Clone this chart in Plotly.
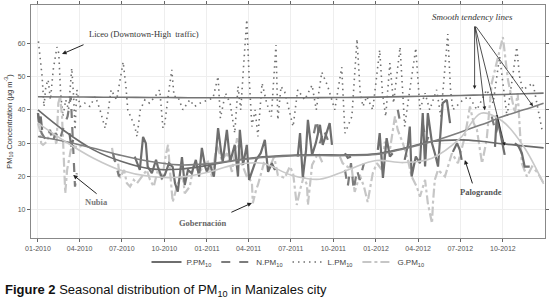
import plotly.graph_objects as go

# ---------------- data ----------------
P_DATES = ["2010-01-01","2010-01-04","2010-01-07","2010-01-10",None,
           "2010-03-10","2010-03-14","2010-03-18",None,
           "2010-07-29","2010-08-09","2010-08-16","2010-08-22","2010-08-26","2010-09-04","2010-09-13",
           "2010-09-17","2010-09-26","2010-10-02","2010-10-11","2010-10-19","2010-10-24","2010-10-30",
           "2010-11-08","2010-11-14","2010-11-21","2010-11-29","2010-12-08","2010-12-15","2010-12-21",
           "2010-12-28","2011-01-01","2011-01-07","2011-01-16","2011-01-25","2011-01-31","2011-02-04",
           "2011-02-13","2011-02-20","2011-03-02","2011-03-09","2011-03-13","2011-03-20","2011-03-28",
           "2011-04-02","2011-04-08","2011-04-17","2011-04-27","2011-05-06","2011-05-13","2011-05-21",
           "2011-05-28",None,
           "2011-07-16","2011-07-21","2011-07-27","2011-08-03","2011-08-07","2011-08-16","2011-08-24",
           "2011-09-02","2011-09-08","2011-09-17","2011-09-23","2011-09-28",None,
           "2011-10-26","2011-11-01","2011-11-08",None,
           "2012-01-05","2012-01-09","2012-01-16","2012-01-24","2012-01-31","2012-02-06",None,
           "2012-03-03","2012-03-10","2012-03-14","2012-03-18","2012-03-27","2012-04-05","2012-04-11",
           "2012-04-16","2012-04-22","2012-05-01","2012-05-09","2012-05-14","2012-05-24","2012-06-02",
           "2012-06-09",None,
           "2012-06-15","2012-06-24","2012-06-30","2012-07-04",None,
           "2012-09-14","2012-09-18","2012-09-27","2012-10-05",None,
           "2012-10-27","2012-11-04","2012-11-11","2012-11-17","2012-11-28"]
P_VALUES = [39,36,38,34,None,
            33,29,31,None,
            26,22,31.9,30,23,21,25,
            22.9,19.6,20.5,24,22.9,18,15.5,
            25.8,17.5,22,21,25,20,28.6,
            23,21.4,24,20,34.5,28,24.4,
            34,24.4,29.5,20,34,23.5,29.5,
            19,21.4,25,27,31,21.4,24,
            22,None,
            26,33,19.6,28,37,26.5,30,
            35.5,29.5,33,36,29.5,None,
            27,25.6,26,None,
            28,33,19.6,31.5,26,27,None,
            25,29.5,35,20,26,24,39,
            23,39,30,26,23,42,43,
            36,None,
            27.4,30,28,25,None,
            28.9,38.4,32,26.5,None,
            30,29,27,23,23]

N_DATES = ["2010-01-01","2010-01-03","2010-01-09","2010-01-18","2010-01-27","2010-02-02","2010-02-08",
           "2010-02-17","2010-02-26","2010-03-06","2010-03-13","2010-03-17","2010-03-19","2010-03-22",
           "2010-03-26",None,
           "2010-06-12","2010-06-18","2010-06-25","2010-07-01",None,
           "2011-08-20","2011-08-26","2011-09-02","2011-09-10","2011-09-19",None,
           "2011-10-26","2011-11-01","2011-11-08","2011-11-14","2011-11-21","2011-11-27","2011-12-06",None,
           "2012-02-17","2012-02-24",None,
           "2012-04-11","2012-04-18","2012-04-26",None,
           "2012-09-07","2012-09-16","2012-09-24"]
N_VALUES = [39,36,33,31,34,30.4,33,
            31,35,38,44,33,25.6,17,
            21,None,
            27,24,20,23,None,
            33,37,30,34,31,None,
            22,17,24,16,22,19,24,None,
            40,35,None,
            36,30,33,None,
            38,33,37]

L_DATES = ["2010-01-02","2010-01-06","2010-01-10","2010-01-14","2010-01-18","2010-01-23","2010-01-28",
           "2010-02-03","2010-02-11","2010-02-15","2010-02-19","2010-02-24","2010-03-02","2010-03-08",
           "2010-03-15","2010-03-19","2010-03-22","2010-03-26","2010-04-02","2010-04-12","2010-04-23",
           "2010-05-05","2010-05-15","2010-05-26","2010-06-01","2010-06-08","2010-06-20","2010-07-04",
           "2010-07-10","2010-07-14","2010-07-22","2010-07-29","2010-08-03","2010-08-10","2010-08-20",
           "2010-08-30","2010-09-11","2010-09-21","2010-09-28","2010-10-02","2010-10-10","2010-10-17",
           "2010-10-22","2010-10-30","2010-11-10","2010-11-25","2010-12-05","2010-12-17",
           "2011-01-14","2011-01-25","2011-01-30","2011-02-10","2011-02-20","2011-03-02","2011-03-09",
           "2011-03-15","2011-03-22","2011-03-28","2011-04-02","2011-04-08","2011-04-15","2011-04-21",
           "2011-04-30","2011-05-10","2011-05-20","2011-05-30","2011-06-03","2011-06-10","2011-06-18",
           "2011-07-06","2011-07-16","2011-07-31","2011-08-16","2011-08-25","2011-09-06","2011-09-19",
           "2011-10-04","2011-10-19","2011-10-26","2011-11-10","2011-11-21","2011-11-28","2011-12-04",
           "2011-12-12","2011-12-25","2012-01-09","2012-01-15","2012-01-22","2012-01-31","2012-02-08",
           "2012-02-22","2012-03-03","2012-03-12","2012-03-27","2012-04-05","2012-04-16","2012-04-26",
           "2012-05-11","2012-05-20","2012-06-04","2012-06-10","2012-06-15","2012-07-07","2012-07-20",
           "2012-08-06","2012-08-27","2012-09-10","2012-09-24","2012-10-10","2012-10-31","2012-11-06",
           "2012-11-13","2012-12-05","2012-12-20","2012-12-26"]
L_VALUES = [60.5,55,50,41,47,49,43,
            52,58.8,57,45,38,43,40,
            52.5,44,34,46,41,42,41,
            44,40,34.5,39,46,43,54.3,
            47,40,37,35,32,40,43,
            42,44,46,34.5,36,45,52,
            44,44,40,43,41,42,
            43.5,50,37.5,45,42,33,47,
            40,55,67,50,35,40,32,
            48,42,38,59.4,37,47,45.3,
            35,46,43,47.4,40,51.3,47,
            40,52.8,33,38,61.2,45,41,
            44,40,57.9,45,38,54,42,
            58.8,35,44,58.5,40,45,40,
            46,38,62.7,46,40,43,44,
            40,46,42,56,38,58.8,50,
            46,48,38,33]

G_DATES = ["2010-01-01","2010-01-05","2010-01-08","2010-01-12","2010-01-20","2010-01-26","2010-02-05",
           "2010-02-10","2010-02-14","2010-02-18","2010-02-22","2010-02-26","2010-03-01","2010-03-05",
           "2010-03-13","2010-03-20","2010-04-01","2010-04-10",None,
           "2010-06-10","2010-06-14","2010-06-23","2010-06-27","2010-07-06","2010-07-12","2010-07-19",
           "2010-07-27","2010-08-03","2010-08-14","2010-08-24","2010-08-31","2010-09-08","2010-09-17",
           "2010-09-26","2010-10-04","2010-10-09","2010-10-13","2010-10-19","2010-10-30","2010-11-10",
           "2010-11-14","2010-11-25","2010-12-04","2010-12-15","2010-12-23","2011-01-03","2011-01-12",
           "2011-01-22","2011-02-02","2011-02-13","2011-02-24","2011-03-07","2011-03-17","2011-03-28",
           "2011-04-08","2011-04-10","2011-04-17","2011-04-21","2011-05-04","2011-05-17","2011-05-26",
           "2011-06-03","2011-06-18","2011-06-29","2011-07-06","2011-07-14","2011-07-21","2011-07-29",
           "2011-08-05","2011-08-07","2011-08-16","2011-08-29","2011-09-08",None,
           "2011-10-15","2011-10-21","2011-11-10","2011-11-16","2011-11-27","2011-12-06","2011-12-14",
           "2011-12-25","2012-01-03","2012-01-14","2012-01-20","2012-01-31","2012-02-11","2012-02-17",
           "2012-02-28","2012-03-10","2012-03-18","2012-03-29","2012-04-05","2012-04-16","2012-04-22",
           "2012-05-01","2012-05-03","2012-05-07","2012-05-14","2012-05-29","2012-06-13","2012-06-26",
           "2012-07-11","2012-07-22","2012-07-30","2012-08-06","2012-08-17","2012-08-27","2012-09-07",
           "2012-09-20","2012-10-01","2012-10-12","2012-10-27","2012-11-02","2012-11-11","2012-11-22",
           "2012-12-03","2012-12-16","2012-12-28"]
G_VALUES = [36,34,30,29.5,30.4,33,32.5,
            29.5,42,44,38,25,15,22,
            28,29,28.8,30,None,
            28.6,25,24,19.6,22,18,17,
            19,18,20,22,19,17,22,
            19,26.5,29.5,22,12.4,18,20,
            15,17,24,21,23,24.4,20,
            29.5,25,27,21.4,31.5,24,20,
            18.4,12,16,17.5,24,22.9,26,
            20.5,19.6,23,21,11.5,16,20,
            17.5,11.5,23.5,27,24,None,
            26,24,22,15.4,20.5,17,12.4,
            21,24,22,30.4,28,38,34,
            30,25,20,17,14,19,12,
            6,12,19,22,20,27,24,
            32,41,36,34,24,31,48,
            56,61.8,49,39,45,24,20,
            23,21,18]

SMOOTH_DATES = ["2010-01-01","2010-03-01","2010-05-01","2010-07-01","2010-09-01","2010-11-01",
                "2011-01-01","2011-03-01","2011-05-01","2011-07-01","2011-09-01","2011-11-01",
                "2012-01-01","2012-03-01","2012-05-01","2012-07-01","2012-08-15","2012-10-01",
                "2012-11-15","2012-12-28"]
L_SMOOTH = [43.9,43.85,43.8,43.75,43.7,43.65,43.6,43.6,43.6,43.6,43.65,43.7,
            43.8,43.95,44.1,44.3,44.45,44.6,44.8,45.0]
P_SMOOTH = [40,33.5,28,24.5,22.3,22.2,23.3,24.8,25.9,26.4,26.5,26.5,
            26.8,28.5,30.5,31,30.6,29.8,29.2,28.6]
N_SMOOTH = [32,30.5,28.5,26.3,24.5,23.5,23.8,24.8,25.7,26.2,26.3,26.3,
            26.6,28.3,30.5,33.3,35.5,38,40,42]
G_SMOOTH = [36,30.5,25.5,21.8,20,19.8,21.2,23.5,24,20.5,19.2,22,
            24.8,24.2,25.5,31.5,39,36.5,29,17.8]

TICK_VALS = ["2010-01-01","2010-04-01","2010-07-01","2010-10-01","2011-01-01","2011-04-01",
             "2011-07-01","2011-10-01","2012-01-01","2012-04-01","2012-07-01","2012-10-01"]
TICK_TEXT = ["01-2010","04-2010","07-2010","10-2010","01-2011","04-2011",
             "07-2011","10-2011","01-2012","04-2012","07-2012","10-2012"]
Y_TICKS = [10,20,30,40,50,60]

# ---------------- figure ----------------
fig = go.Figure()

def raw(x, y, name, color, width, dash, rank):
    fig.add_trace(go.Scatter(x=x, y=y, mode="lines", name=name, connectgaps=False, legendrank=rank,
                             line=dict(color=color, width=width, dash=dash)))

raw(L_DATES, L_VALUES, "L.PM<sub>10</sub>", "#707070", 1.6, "1.5px,4px", 3)
raw(G_DATES, G_VALUES, "G.PM<sub>10</sub>", "#c6c6c6", 2.2, "dashdot", 4)
raw(N_DATES, N_VALUES, "N.PM<sub>10</sub>", "#7c7c7c", 2.2, "dash", 2)
raw(P_DATES, P_VALUES, "P.PM<sub>10</sub>", "#6e6e6e", 2.2, "solid", 1)

for ys, col in [(L_SMOOTH, "#747474"), (P_SMOOTH, "#6a6a6a"), (N_SMOOTH, "#7e7e7e"), (G_SMOOTH, "#c8c8c8")]:
    fig.add_trace(go.Scatter(x=SMOOTH_DATES, y=ys, mode="lines", showlegend=False,
                             line=dict(color=col, width=1.6, shape="spline", smoothing=1.0)))

serif = "Liberation Serif"
ann = []
def label(x, y, text, color, size=11, bold=True, italic=False):
    t = text
    if bold: t = "<b>" + t + "</b>"
    if italic: t = "<i>" + t + "</i>"
    ann.append(dict(x=x, y=y, xref="x", yref="y", text=t, showarrow=False,
                    font=dict(family=serif, size=size, color=color)))

def arrow(x, y, ax, ay, width=1.0):
    ann.append(dict(x=x, y=y, xref="x", yref="y", ax=ax, ay=ay, text="", showarrow=True,
                    arrowhead=2, arrowsize=0.9, arrowwidth=width, arrowcolor="#222"))

label("2010-08-18", 62.7, "Liceo (Downtown-High  traffic)", "#333", 8.5, bold=False)
label("2010-05-08", 12.4, "Nubia", "#7a7a7a", 8.5)
label("2010-12-23", 6.1, "Gobernación", "#666", 8.5)
label("2012-08-14", 15.4, "Palogrande", "#555", 8.5)
label("2012-07-28", 67.8, "Smooth tendency lines", "#333", 9, bold=False, italic=True)

arrow("2010-02-22", 56.7, 23, -10)
arrow("2010-03-18", 20.5, 25, 20)
arrow("2011-04-08", 12.1, -22, 10)
arrow("2012-07-11", 25.0, 8, 25)
arrow("2012-08-01", 46.2, 0, -64, 0.8)
arrow("2012-08-23", 39.9, -10, -85, 0.8)
arrow("2012-10-05", 29.2, -30, -121, 0.8)
arrow("2012-12-05", 41.1, -58, -81, 0.8)

ann.append(dict(x=-0.055, y=-0.227, xref="paper", yref="paper", xanchor="left", yanchor="middle",
                showarrow=False,
                text="<b>Figure 2</b> Seasonal distribution of PM<sub>10</sub> in Manizales city",
                font=dict(family="Liberation Sans", size=13, color="#111")))

fig.update_layout(
    width=558, height=302,
    margin=dict(l=31, r=13, t=5, b=64, autoexpand=False),
    paper_bgcolor="white", plot_bgcolor="white",
    annotations=ann,
    showlegend=True,
    legend=dict(orientation="h", x=0.5, xanchor="center", y=-0.103, yanchor="middle",
                font=dict(family="Liberation Sans", size=8, color="#444"),
                itemwidth=30, tracegroupgap=0, bgcolor="rgba(0,0,0,0)"),
    font=dict(family="Liberation Sans", color="#444"),
)
fig.update_xaxes(type="date", range=["2009-12-17", "2012-12-31"],
                 tickvals=TICK_VALS, ticktext=TICK_TEXT, tickfont=dict(size=7, color="#555"),
                 ticks="outside", ticklen=3, tickcolor="#666", showline=True, linecolor="#888",
                 linewidth=1.2, mirror="allticks", showgrid=True, gridcolor="#eeeeee", zeroline=False)
fig.update_yaxes(range=[1.6, 71.4], tickvals=Y_TICKS, tickfont=dict(size=7, color="#555"),
                 ticks="outside", ticklen=3, tickcolor="#666", showline=True, linecolor="#888",
                 linewidth=1.2, mirror="allticks", showgrid=True, gridcolor="#eeeeee", zeroline=False,
                 title=dict(text="PM<sub>10</sub> Concentration (µg m<sup>-3</sup>)",
                            font=dict(size=7.5, color="#333"), standoff=4))

fig.write_html("out.html", config={"displayModeBar": False},
               post_script="document.body.style.margin='0px';document.body.style.padding='0px';")
